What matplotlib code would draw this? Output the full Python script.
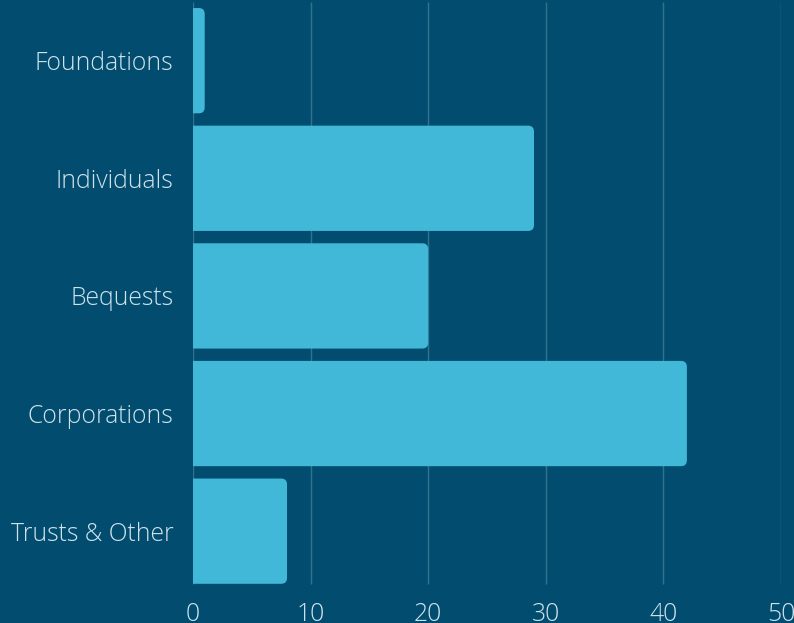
import matplotlib.pyplot as plt
from matplotlib.patches import FancyBboxPatch

categories = ["Foundations", "Individuals", "Bequests", "Corporations", "Trusts & Other"]
values = [1, 29, 20, 42, 8]
xticks = [0, 10, 20, 30, 40, 50]

bg = "#024d6f"
bar_color = "#41b8d8"
text_color = "#cfe3ec"
grid_color = "#33718e"

plt.rcParams['font.family'] = ['Open Sans', 'DejaVu Sans']

fig = plt.figure(figsize=(7.94, 6.23), dpi=100, facecolor=bg)
ax = fig.add_axes([0.243, 0.053, 0.7406, 0.944])
ax.set_facecolor(bg)

ypos = list(range(len(categories)))
h = 0.895
# rounding ~6px; x scale 11.76 px/unit, y scale 117.6 px/unit
r = 0.5
aspect = 0.1
for y, v in zip(ypos, values):
    # start left of zero so the clipped left corners stay square
    patch = FancyBboxPatch((-2 * r, y - h / 2), v + 2 * r, h,
                           boxstyle="round,pad=0,rounding_size=%f" % r,
                           mutation_aspect=aspect,
                           facecolor=bar_color, edgecolor="none", zorder=3)
    ax.add_patch(patch)

ax.set_xlim(0, 50)
ax.set_ylim(len(categories) - 0.5, -0.5)
ax.set_yticks(ypos)
ax.set_yticklabels(categories)
ax.set_xticks(xticks)

# gridlines stop at the bottom of the last bar
ax.vlines(xticks, -0.5, ypos[-1] + h / 2, color=grid_color, linewidth=1, zorder=1)
for s in ["top", "right", "bottom", "left"]:
    ax.spines[s].set_visible(False)

ax.tick_params(axis="both", length=0, colors=text_color, labelsize=17.8)
ax.tick_params(axis="y", pad=14)
ax.tick_params(axis="x", pad=9)
for lbl in ax.get_xticklabels() + ax.get_yticklabels():
    lbl.set_fontweight("light")

fig.savefig("out.png", dpi=100, facecolor=bg)
